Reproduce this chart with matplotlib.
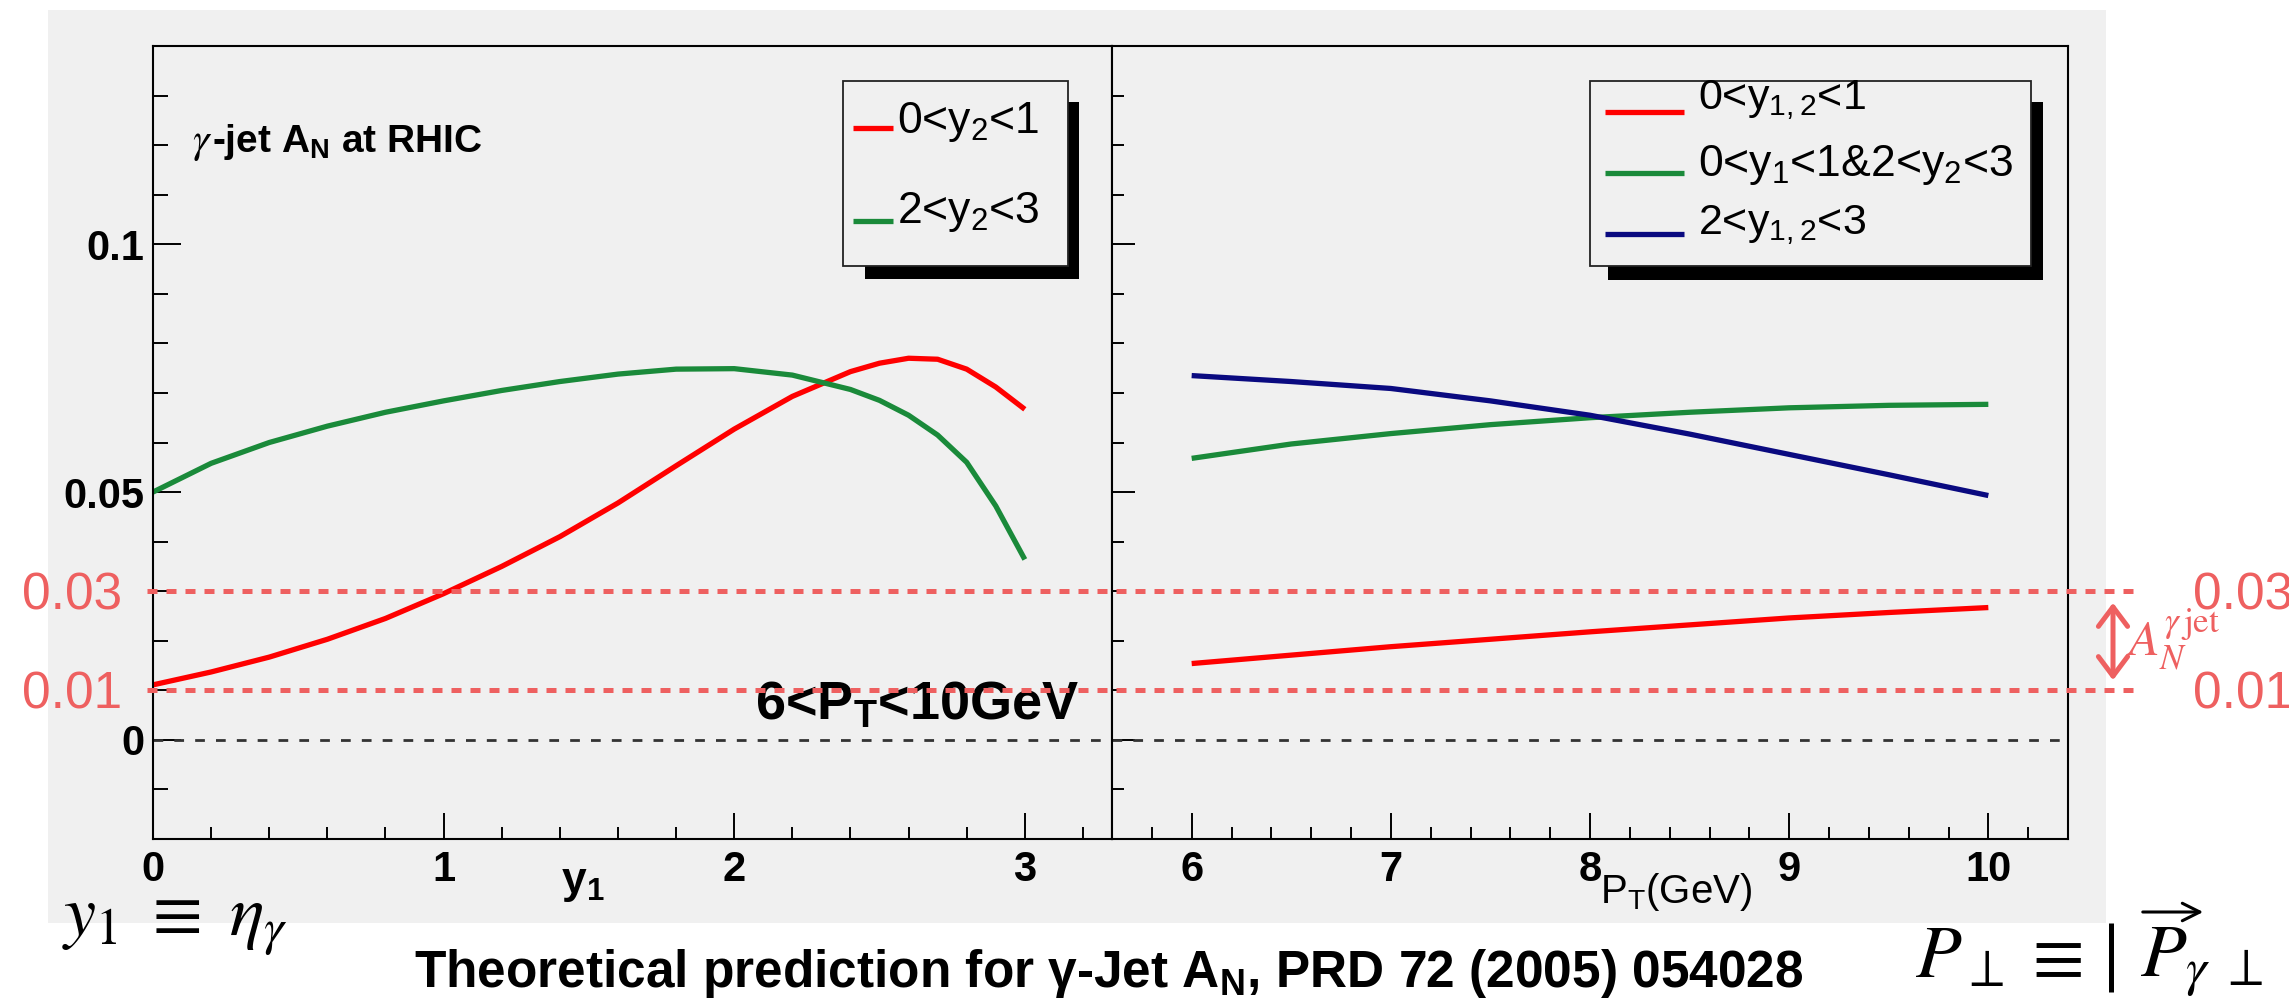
import numpy as np
import matplotlib
matplotlib.use('Agg')
import matplotlib.pyplot as plt
from matplotlib.ticker import MultipleLocator
from matplotlib.patches import Rectangle, FancyArrowPatch
from matplotlib.lines import Line2D

plt.rcParams['font.family'] = ['Liberation Sans', 'DejaVu Sans']
plt.rcParams['mathtext.fontset'] = 'custom'
plt.rcParams['mathtext.rm'] = 'Liberation Sans'
plt.rcParams['mathtext.it'] = 'Liberation Sans:italic'
plt.rcParams['mathtext.bf'] = 'Liberation Sans:bold'

# left panel: A_N vs y1 (6 < PT < 10 GeV)
y1 = [0.0, 0.2, 0.4, 0.6, 0.8, 1.0, 1.2, 1.4, 1.6, 1.8, 2.0, 2.2, 2.4, 2.5, 2.6, 2.7, 2.8, 2.9, 3.0]
an_y2_01 = [0.0111, 0.0137, 0.0167, 0.0203, 0.0245, 0.0295, 0.0350, 0.0410, 0.0478, 0.0553,
            0.0627, 0.0693, 0.0743, 0.0760, 0.0770, 0.0768, 0.0748, 0.0712, 0.0667]
an_y2_23 = [0.0500, 0.0558, 0.0600, 0.0633, 0.0661, 0.0684, 0.0705, 0.0723, 0.0738, 0.0748,
            0.0749, 0.0736, 0.0707, 0.0685, 0.0655, 0.0615, 0.0560, 0.0472, 0.0364]

# right panel: A_N vs PT
pt = [6.0, 6.5, 7.0, 7.5, 8.0, 8.5, 9.0, 9.5, 10.0]
an_y12_01 = [0.0154, 0.0171, 0.0188, 0.0203, 0.0218, 0.0232, 0.0246, 0.0257, 0.0267]
an_mixed = [0.0568, 0.0597, 0.0618, 0.0636, 0.0650, 0.0661, 0.0670, 0.0675, 0.0677]
an_y12_23 = [0.0735, 0.0723, 0.0709, 0.0684, 0.0655, 0.0617, 0.0576, 0.0535, 0.0493]

yticks = [0, 0.05, 0.1]
ytick_labels = ['0', '0.05', '0.1']
band = [0.01, 0.03]

RED = '#ff0000'
GREEN = '#1a8a3a'
BLUE = '#0a0a80'
PINK = '#ee6060'
BG = '#f0f0f0'
LW = 3.8

W, H = 2289, 999
fig = plt.figure(figsize=(W / 100, H / 100), dpi=100)


def fx(px):
    return px / W


def fy(py):
    return 1 - py / H


# grey canvas
fig.add_artist(Rectangle((fx(48), fy(923)), fx(2106) - fx(48), (923 - 10) / H,
                         transform=fig.transFigure, facecolor=BG, edgecolor='none', zorder=-5))

axL = fig.add_axes([fx(153), fy(839), fx(1112) - fx(153), (839 - 46) / H])
axR = fig.add_axes([fx(1112), fy(839), fx(2068) - fx(1112), (839 - 46) / H])

for ax in (axL, axR):
    ax.set_facecolor(BG)
    for s in ax.spines.values():
        s.set_linewidth(1.5)
    ax.set_ylim(-0.02, 0.14)
    ax.set_yticks(yticks)
    ax.yaxis.set_minor_locator(MultipleLocator(0.01))
    ax.xaxis.set_minor_locator(MultipleLocator(0.2))
    ax.axhline(0, color='#333333', lw=2.0, dashes=(3.5, 4.0))

axL.set_xlim(0, 3.3)
axL.set_xticks([0, 1, 2, 3])
axL.set_xticklabels(['0', '1', '2', '3'], fontsize=30, fontweight='bold')
axL.set_yticklabels(ytick_labels, fontsize=30, fontweight='bold')
axL.tick_params(axis='y', which='major', direction='in', length=20, width=1.4, pad=6, right=False)
axL.tick_params(axis='y', which='minor', direction='in', length=11, width=1.4, right=False)
axL.tick_params(axis='x', which='major', direction='in', length=19, width=1.4, pad=8, top=False)
axL.tick_params(axis='x', which='minor', direction='in', length=8.6, width=1.4, top=False)

axR.set_xlim(5.6, 10.4)
axR.set_xticks([6, 7, 8, 9, 10])
axR.set_xticklabels(['6', '7', '8', '9', '10'], fontsize=30, fontweight='bold')
axR.set_yticklabels([])
axR.tick_params(axis='y', which='major', direction='in', length=16.5, width=1.4, right=False)
axR.tick_params(axis='y', which='minor', direction='in', length=8.6, width=1.4, right=False)
axR.tick_params(axis='x', which='major', direction='in', length=19, width=1.4, pad=8, top=False)
axR.tick_params(axis='x', which='minor', direction='in', length=8.6, width=1.4, top=False)

axL.plot(y1, an_y2_01, color=RED, lw=LW, solid_capstyle='butt')
axL.plot(y1, an_y2_23, color=GREEN, lw=LW, solid_capstyle='butt')
axR.plot(pt, an_y12_01, color=RED, lw=LW, solid_capstyle='butt')
axR.plot(pt, an_mixed, color=GREEN, lw=LW, solid_capstyle='butt')
axR.plot(pt, an_y12_23, color=BLUE, lw=LW, solid_capstyle='butt')


# legends drawn ROOT style with shadow
def legend_box(box, shadow):
    x0, y0, x1, y1_ = shadow
    fig.add_artist(Rectangle((fx(x0), fy(y1_)), fx(x1) - fx(x0), (y1_ - y0) / H,
                             transform=fig.transFigure, facecolor='black', edgecolor='none', zorder=3))
    x0, y0, x1, y1_ = box
    fig.add_artist(Rectangle((fx(x0), fy(y1_)), fx(x1) - fx(x0), (y1_ - y0) / H,
                             transform=fig.transFigure, facecolor=BG, edgecolor='#222222',
                             lw=1.3, zorder=4))


def legend_line(x0, x1, y, color):
    fig.add_artist(Line2D([fx(x0), fx(x1)], [fy(y), fy(y)], transform=fig.transFigure,
                          color=color, lw=LW, solid_capstyle='butt', zorder=5))


legend_box((843, 81, 1068, 266), (865, 102, 1079, 279))
legend_line(853, 893, 128, RED)
legend_line(853, 893, 221, GREEN)
fig.text(fx(897), fy(133), r'0<y$_{\mathrm{2}}$<1', fontsize=32, va='baseline', zorder=6)
fig.text(fx(897), fy(223), r'2<y$_{\mathrm{2}}$<3', fontsize=32, va='baseline', zorder=6)

legend_box((1590, 81, 2031, 266), (1608, 102, 2043, 280))
legend_line(1605, 1684, 112, RED)
legend_line(1605, 1684, 173, GREEN)
legend_line(1605, 1684, 234, BLUE)
fig.text(fx(1698), fy(109), r'0<y$_{\mathrm{1,2}}$<1', fontsize=31, va='baseline', zorder=6)
fig.text(fx(1698), fy(176), r'0<y$_{\mathrm{1}}$<1&2<y$_{\mathrm{2}}$<3', fontsize=32, va='baseline', zorder=6)
fig.text(fx(1698), fy(234), r'2<y$_{\mathrm{1,2}}$<3', fontsize=31, va='baseline', zorder=6)

# in-plot labels
fig.text(fx(192), fy(152), r'$\gamma$', fontsize=30, math_fontfamily='stix', va='baseline')
fig.text(fx(212), fy(152), r'-jet A$_{\mathbf{N}}$ at RHIC', fontsize=28, fontweight='bold', va='baseline')
fig.text(fx(755), fy(720), r'6<P$_{\mathbf{T}}$<10GeV', fontsize=39, fontweight='bold', va='baseline')
fig.text(fx(561), fy(893), r'y$_{\mathbf{1}}$', fontsize=32, fontweight='bold', va='baseline')
fig.text(fx(1600), fy(903), r'P$_{\mathrm{T}}$(GeV)', fontsize=29, va='baseline')

# bottom caption and definitions
fig.text(fx(414), fy(987), r'Theoretical prediction for γ-Jet A$_{\mathbf{N}}$, PRD 72 (2005) 054028',
         fontsize=37, fontweight='bold', va='baseline')
fig.text(fx(62), fy(936), r'$y_1\ \equiv\ \eta_\gamma$', fontsize=52, math_fontfamily='stix', va='baseline')
fig.text(fx(1915), fy(977), r'$P_{\perp}$', fontsize=54, math_fontfamily='stix', va='baseline')
fig.text(fx(2022), fy(977), r'$\equiv$', fontsize=54, math_fontfamily='stix', va='baseline')
fig.add_artist(Line2D([fx(2111), fx(2111)], [fy(923), fy(992)], transform=fig.transFigure,
                      color='black', lw=3.6, solid_capstyle='butt'))
fig.text(fx(2140), fy(977), r'$P_{\gamma\ \perp}$', fontsize=54, math_fontfamily='stix', va='baseline')
fig.add_artist(FancyArrowPatch((fx(2140), fy(912)), (fx(2206), fy(912)), transform=fig.transFigure,
                               arrowstyle='->,head_length=0.9,head_width=0.45', mutation_scale=14,
                               color='black', lw=2.2))

# highlighted band 0.01 - 0.03
for val in band:
    yy = axL.transData.transform((0, val))[1] / H
    fig.add_artist(Line2D([fx(147), fx(2142)], [yy, yy], transform=fig.transFigure,
                          color=PINK, lw=3.6, dashes=(2.0, 1.8), zorder=7))
    lab = '%.2f' % val
    fig.text(fx(122), yy - 18 / H, lab, fontsize=37, color=PINK, ha='right', va='baseline')
    fig.text(fx(2193), yy - 18 / H, lab, fontsize=37, color=PINK, ha='left', va='baseline')

fig.add_artist(FancyArrowPatch((fx(2113), fy(683)), (fx(2113), fy(600)), transform=fig.transFigure,
                               arrowstyle='<->,head_length=1.0,head_width=0.75', mutation_scale=14,
                               color=PINK, lw=3.6, zorder=7))
fig.text(fx(2126), fy(656), r'$A_N^{\gamma\,\mathrm{jet}}$', fontsize=36, color=PINK,
         math_fontfamily='stix', va='baseline')

fig.savefig('out.png', dpi=100)
